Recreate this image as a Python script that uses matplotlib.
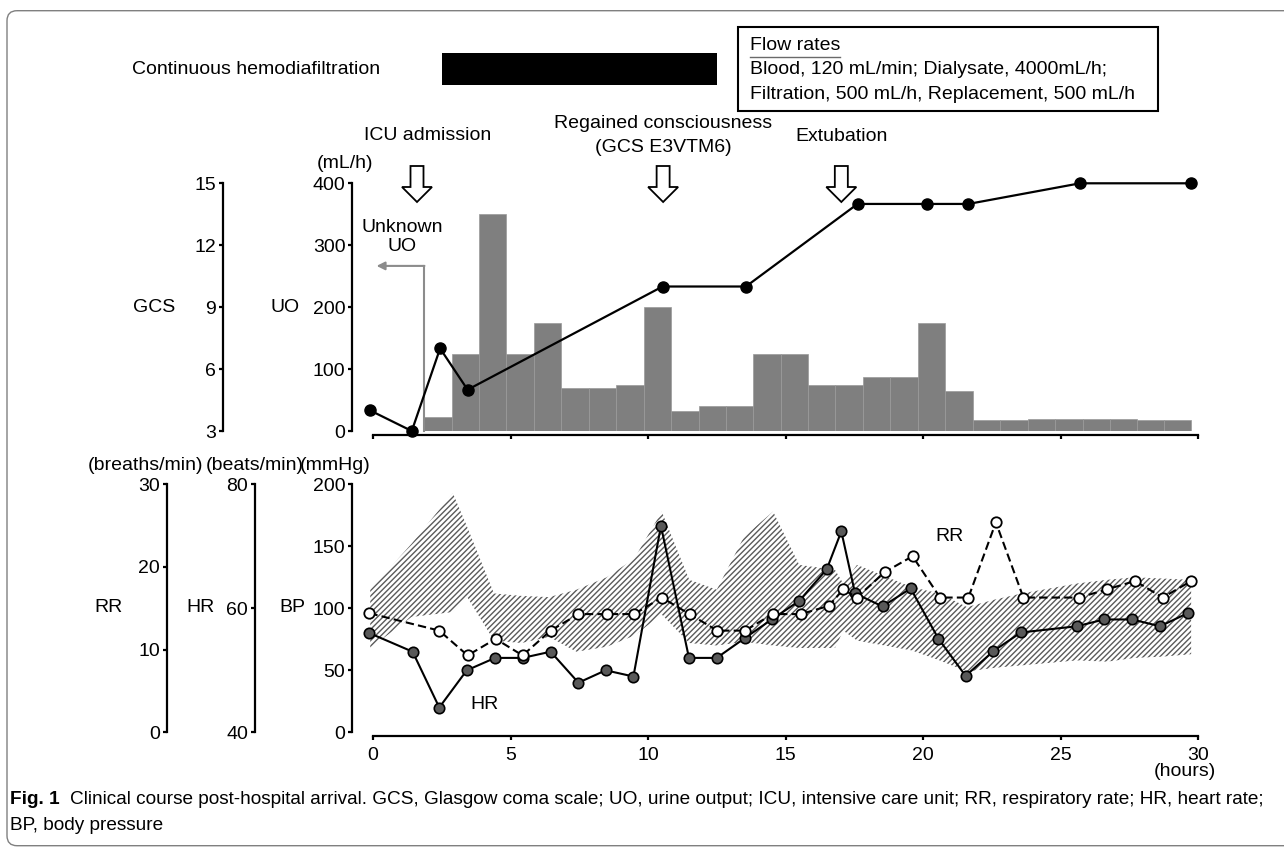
import numpy as np
import matplotlib
matplotlib.use("Agg")
import matplotlib.pyplot as plt
from matplotlib import patches, transforms

# ---------------- data ----------------
hour_ticks = [0, 5, 10, 15, 20, 25, 30]

# Urine output (mL/h), hourly bins
uo_bin_edges = [1.84, 2.86, 3.86, 4.84, 5.84, 6.84, 7.84, 8.84, 9.84, 10.84, 11.84,
                12.84, 13.83, 14.83, 15.8, 16.8, 17.8, 18.8, 19.8, 20.8, 21.8, 22.8,
                23.8, 24.8, 25.8, 26.8, 27.77, 28.77, 29.75]
uo_values = [23, 125, 350, 125, 175, 70, 70, 75, 200, 33, 40, 40, 125, 125, 75, 75,
             87, 87, 175, 65, 17, 17, 20, 20, 20, 20, 17, 17]

# Glasgow coma scale
gcs_hours = [-0.11, 1.41, 2.44, 3.44, 10.53, 13.56, 17.62, 20.13, 21.65, 25.71, 29.73]
gcs_values = [4, 3, 7, 5, 10, 10, 14, 14, 14, 15, 15]

# Heart rate (beats/min)
hr_hours = [-0.13, 1.44, 2.41, 3.41, 4.44, 5.44, 6.46, 7.47, 8.46, 9.47, 10.47, 11.49,
            12.5, 13.52, 14.5, 15.5, 16.5, 17.03, 17.53, 18.53, 19.55, 20.56, 21.55,
            22.56, 23.56, 25.59, 26.59, 27.61, 28.62, 29.62]
hr_values = [56, 53, 44, 50, 52, 52, 53, 48, 50, 49, 73.3, 52, 52, 55.2, 58.2, 61.2,
             66.3, 72.4, 62.4, 60.3, 63.2, 55.1, 49.1, 53.1, 56.1, 57.1, 58.2, 58.2,
             57.1, 59.2]

# Respiratory rate (breaths/min)
rr_hours = [-0.13, 2.41, 3.44, 4.46, 5.44, 6.46, 7.47, 8.5, 9.5, 10.5, 11.51, 12.52,
            13.53, 14.53, 15.56, 16.58, 17.1, 17.59, 18.62, 19.62, 20.62, 21.65, 22.65,
            23.65, 25.68, 26.7, 27.71, 28.72, 29.75]
rr_values = [14.4, 12.3, 9.3, 11.3, 9.3, 12.3, 14.3, 14.3, 14.3, 16.3, 14.3, 12.3, 12.3,
             14.3, 14.3, 15.3, 17.3, 16.3, 19.4, 21.3, 16.3, 16.3, 25.4, 16.3, 16.3,
             17.3, 18.3, 16.3, 18.3]

# Blood pressure range (mmHg)
bp_hours = [-0.1, 1.4, 2.9, 3.4, 4.4, 5.4, 6.4, 7.4, 8.5, 9.5, 10.5, 11.5, 12.5, 13.5,
            14.55, 15.5, 16.8, 17.1, 17.6, 18.6, 19.6, 20.6, 21.6, 22.6, 23.6, 24.6,
            25.6, 26.7, 27.7, 28.7, 29.75]
bp_upper = [115, 152, 193, 167, 112, 110, 109, 115, 125, 140, 178, 123, 115, 158, 178,
            135, 131, 120, 135, 126, 117, 112, 101, 107, 112, 116, 120, 123, 125, 124, 123]
bp_lower = [68, 93, 97, 110, 74, 72, 77, 65, 69, 78, 95, 72, 70, 73, 70, 68, 68, 82, 74,
            70, 66, 58, 49, 52, 54, 56, 58, 57, 60, 61, 63]

# Events
chdf_start, chdf_end = 2.5, 12.5
event_hours = [1.6, 10.55, 17.03]
flow_title = "Flow rates"
flow_lines = ["Blood, 120 mL/min; Dialysate, 4000mL/h;",
              "Filtration, 500 mL/h, Replacement, 500 mL/h"]
caption_head = "Fig. 1"
caption_body = ("Clinical course post-hospital arrival. GCS, Glasgow coma scale; UO, urine "
                "output; ICU, intensive care unit; RR, respiratory rate; HR, heart rate;")
caption_line2 = "BP, body pressure"

# ---------------- layout ----------------
W, H, DPI = 1284, 850, 100
plt.rcParams['font.family'] = ['Liberation Sans', 'DejaVu Sans']
plt.rcParams['hatch.linewidth'] = 1.0
FS = 14
LW_SP = 1.6

fig = plt.figure(figsize=(W / DPI, H / DPI), dpi=DPI)
pix = transforms.Affine2D().scale(1 / W, -1 / H).translate(0, 1) + fig.transFigure


def fy(y):
    return 1 - y / H


def axes_rect(l, t, r, b):
    return [l / W, 1 - b / H, (r - l) / W, (b - t) / H]


PX_H0, PX_PER_H = 373.0, 27.5
AX_L, AX_R = 352.3, 1210.0
xlim = ((AX_L - PX_H0) / PX_PER_H, (AX_R - PX_H0) / PX_PER_H)


def style_main(ax, ylim, yticks, bottom_off_px, labelbottom):
    ax.set_xlim(*xlim)
    ax.set_ylim(*ylim)
    for s in ['top', 'right']:
        ax.spines[s].set_visible(False)
    for s in ['left', 'bottom']:
        ax.spines[s].set_linewidth(LW_SP)
    ax.spines['bottom'].set_position(('outward', bottom_off_px * 72 / DPI))
    ax.spines['bottom'].set_bounds(hour_ticks[0], hour_ticks[-1])
    ax.set_xticks(hour_ticks)
    ax.set_yticks(yticks)
    ax.tick_params(direction='out', length=3, width=LW_SP, labelsize=FS, pad=2)
    ax.tick_params(axis='x', labelbottom=labelbottom, pad=5)
    ax.patch.set_visible(False)


def parasite(host, ylim, yticks, offset_px):
    ax = host.twinx()
    ax.set_ylim(*ylim)
    ax.set_yticks(yticks)
    for s in ['top', 'right', 'bottom']:
        ax.spines[s].set_visible(False)
    ax.spines['left'].set_visible(True)
    ax.spines['left'].set_position(('outward', offset_px * 72 / DPI))
    ax.spines['left'].set_linewidth(LW_SP)
    ax.yaxis.tick_left()
    ax.tick_params(axis='y', direction='out', length=3, width=LW_SP, labelsize=FS, pad=2)
    return ax


# ---- upper panel: UO bars + GCS ----
ax_up = fig.add_axes(axes_rect(AX_L, 183.3, AX_R, 431))
style_main(ax_up, (0, 400), [0, 100, 200, 300, 400], 4, False)
edges = np.array(uo_bin_edges)
ax_up.bar(edges[:-1], uo_values, width=np.diff(edges), align='edge',
          color='#7f7f7f', edgecolor='#9a9a9a', linewidth=0.5, zorder=2)
# unknown UO arrow
ax_up.plot([1.87, 1.87], [0, 266.6], color='#8c8c8c', lw=1.5, zorder=3, clip_on=False)
ax_up.annotate('', xy=(0.13, 266.6), xytext=(1.87, 266.6),
               arrowprops=dict(arrowstyle='-|>', color='#8c8c8c', lw=1.5,
                               mutation_scale=12, shrinkA=0, shrinkB=0))
ax_up.text(1.07, 314, 'Unknown\nUO', ha='center', va='center', fontsize=FS,
           linespacing=1.15)

ax_g = parasite(ax_up, (3, 15), [3, 6, 9, 12, 15], AX_L - 222.7)
ax_g.plot(gcs_hours, gcs_values, color='black', lw=1.6, marker='o', ms=8,
          mfc='black', mec='black', clip_on=False, zorder=5)

# ---- lower panel: BP band, HR, RR ----
ax_lo = fig.add_axes(axes_rect(AX_L, 484.3, AX_R, 732.3))
style_main(ax_lo, (0, 200), [0, 50, 100, 150, 200], 3.4, True)
ax_lo.fill_between(bp_hours, bp_lower, bp_upper, facecolor='none', edgecolor='#5a5a5a',
                   hatch='//////', linewidth=0, zorder=1)
ax_lo.text(4.04, 22.6, 'HR', ha='center', va='center', fontsize=FS)
ax_lo.text(20.95, 157.7, 'RR', ha='center', va='center', fontsize=FS)

ax_h = parasite(ax_lo, (40, 80), [40, 60, 80], AX_L - 255.0)
ax_h.plot(hr_hours, hr_values, color='black', lw=1.5, marker='o', ms=7.5,
          mfc='#595959', mec='black', mew=1.2, clip_on=False, zorder=5)
ax_r = parasite(ax_lo, (0, 30), [0, 10, 20, 30], AX_L - 166.7)
ax_r.plot(rr_hours, rr_values, color='black', lw=1.5, ls=(0, (4, 2)), marker='o',
          ms=7.5, mfc='white', mec='black', mew=1.3, clip_on=False, zorder=6)

# ---- axis titles ----
fig.text(153.7 / W, fy(307), 'GCS', ha='center', va='center', fontsize=FS)
fig.text(285 / W, fy(307), 'UO', ha='center', va='center', fontsize=FS)
fig.text(345 / W, fy(163), '(mL/h)', ha='center', va='center', fontsize=FS)
fig.text(109 / W, fy(608), 'RR', ha='center', va='center', fontsize=FS)
fig.text(200 / W, fy(608), 'HR', ha='center', va='center', fontsize=FS)
fig.text(292 / W, fy(608), 'BP', ha='center', va='center', fontsize=FS)
fig.text(203 / W, fy(466), '(breaths/min)', ha='right', va='center', fontsize=FS)
fig.text(206 / W, fy(466), '(beats/min)', ha='left', va='center', fontsize=FS)
fig.text(300 / W, fy(466), '(mmHg)', ha='left', va='center', fontsize=FS)
fig.text(1185 / W, fy(772), '(hours)', ha='center', va='center', fontsize=FS)

# ---- top annotations ----
fig.text(132 / W, fy(70), 'Continuous hemodiafiltration', ha='left', va='center',
         fontsize=FS)
bt = transforms.blended_transform_factory(ax_up.transData, fig.transFigure)
ax_up.add_patch(patches.Rectangle((chdf_start, fy(85)), chdf_end - chdf_start, 32 / H,
                                  transform=bt, facecolor='black', edgecolor='none',
                                  clip_on=False))
# flow-rate box
fig.add_artist(patches.Rectangle((738, 27), 420, 84, transform=pix, fill=False,
                                 edgecolor='black', linewidth=1.5))
t_title = fig.text(750 / W, fy(45.7), flow_title, ha='left', va='center', fontsize=FS)
fig.text(750 / W, fy(70), flow_lines[0], ha='left', va='center', fontsize=FS)
fig.text(750 / W, fy(94.3), flow_lines[1], ha='left', va='center', fontsize=FS)
renderer = fig.canvas.get_renderer()
bb = t_title.get_window_extent(renderer)
fig.add_artist(plt.Line2D([bb.x0 / W, bb.x1 / W], [fy(56.5)] * 2, color='#6a6a6a', lw=1.0))

# events
fig.text(428 / W, fy(135), 'ICU admission', ha='center', va='center', fontsize=FS)
fig.text(663 / W, fy(123), 'Regained consciousness', ha='center', va='center', fontsize=FS)
fig.text(663 / W, fy(147), '(GCS E3VTM6)', ha='center', va='center', fontsize=FS)
fig.text(841.6 / W, fy(136.7), 'Extubation', ha='center', va='center', fontsize=FS)
for eh in event_hours:
    arr = patches.FancyArrow(eh, fy(166), 0, -(202 - 166) / H, width=13 / PX_PER_H,
                             head_width=30 / PX_PER_H, head_length=15 / H,
                             length_includes_head=True, transform=bt,
                             facecolor='white', edgecolor='black', linewidth=1.3,
                             clip_on=False)
    ax_up.add_patch(arr)

# ---- frame ----
fig.add_artist(patches.FancyBboxPatch((7, 10.7), 1320, 835,
                                      boxstyle='round,pad=0,rounding_size=10',
                                      transform=pix, fill=False, edgecolor='#808080',
                                      linewidth=1.0))

# ---- caption: size fitted so the first line spans the figure width ----
CAP_FAMILY = ['Liberation Sans', 'DejaVu Sans']
cap_fs = 12.0
for _ in range(3):
    p1 = fig.text(0, 0, caption_head + '  ', fontsize=cap_fs, weight='bold',
                  family=CAP_FAMILY)
    p2 = fig.text(0, 0, caption_body, fontsize=cap_fs, family=CAP_FAMILY)
    wtot = p1.get_window_extent(renderer).width + p2.get_window_extent(renderer).width
    p1.remove()
    p2.remove()
    cap_fs *= 1252 / wtot
p1 = fig.text(0, 0, caption_head + '  ', fontsize=cap_fs, weight='bold', family=CAP_FAMILY)
wh = p1.get_window_extent(renderer).width
p1.remove()

fig.text(10 / W, fy(800), caption_head, fontsize=cap_fs, weight='bold', family=CAP_FAMILY,
         va='center', ha='left')
fig.text((10 + wh) / W, fy(800), caption_body, fontsize=cap_fs, family=CAP_FAMILY,
         va='center', ha='left')
fig.text(10 / W, fy(826), caption_line2, fontsize=cap_fs, family=CAP_FAMILY,
         va='center', ha='left')

fig.savefig('out.png', dpi=DPI)
